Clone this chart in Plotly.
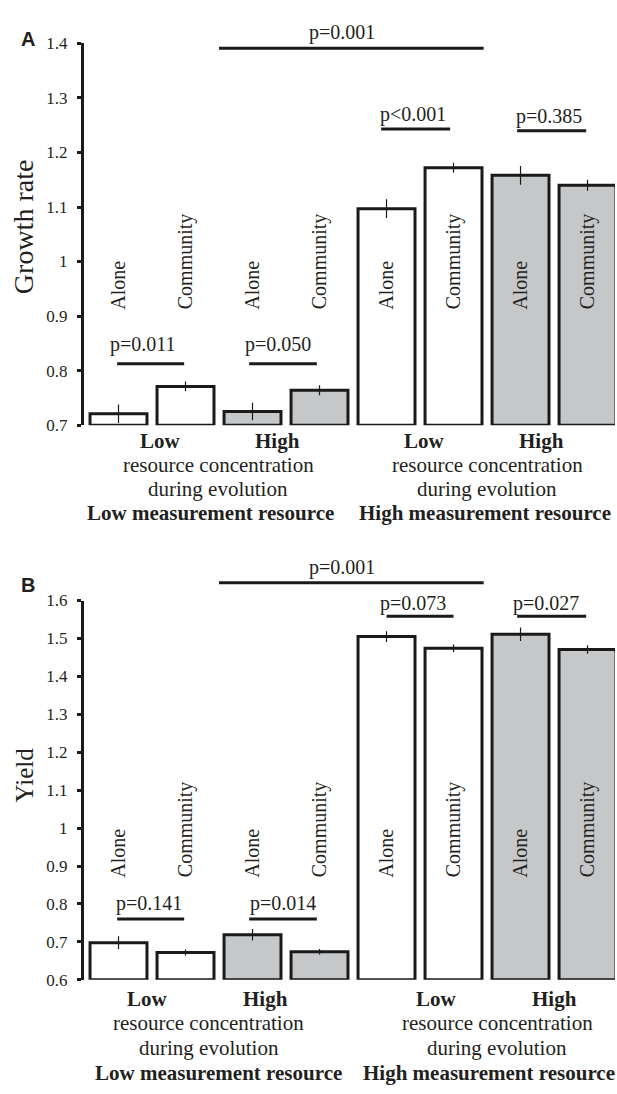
import plotly.graph_objects as go

# ---------------- data ----------------
conditions = ["Alone", "Community", "Alone", "Community", "Alone", "Community", "Alone", "Community"]
evolved_high = [False, False, True, True, False, False, True, True]
growth_rate = [0.721, 0.771, 0.725, 0.764, 1.097, 1.172, 1.158, 1.140]
growth_se = [0.017, 0.009, 0.016, 0.009, 0.017, 0.009, 0.017, 0.010]
yield_vals = [0.698, 0.672, 0.719, 0.674, 1.505, 1.474, 1.511, 1.471]
yield_se = [0.017, 0.008, 0.015, 0.007, 0.014, 0.010, 0.018, 0.011]

growth_ticks = [0.7, 0.8, 0.9, 1.0, 1.1, 1.2, 1.3, 1.4]
growth_ticktext = ["0.7", "0.8", "0.9", "1", "1.1", "1.2", "1.3", "1.4"]
yield_ticks = [0.6, 0.7, 0.8, 0.9, 1.0, 1.1, 1.2, 1.3, 1.4, 1.5, 1.6]
yield_ticktext = ["0.6", "0.7", "0.8", "0.9", "1", "1.1", "1.2", "1.3", "1.4", "1.5", "1.6"]

# significance brackets: (x0, x1, y_line_px, label, x_text, y_text_px)
growth_sig = [
    (1.5, 5.45, 40, "p=0.001", 3.33, 24),
    (-0.02, 0.98, 361, "p=0.011", 0.37, 341),
    (1.95, 2.96, 361, "p=0.050", 2.38, 341),
    (3.92, 4.95, 122, "p<0.001", 4.4, 107),
    (5.95, 6.98, 124, "p=0.385", 6.42, 109),
]
yield_sig = [
    (1.5, 5.45, 584, "p=0.001", 3.33, 568),
    (-0.02, 0.98, 926, "p=0.141", 0.45, 910),
    (1.95, 2.96, 926, "p=0.014", 2.45, 910),
    (4.0, 5.0, 618, "p=0.073", 4.39, 605),
    (5.95, 6.98, 618, "p=0.027", 6.38, 605),
]

# group labels: (text, x, y_px, bold)
growth_group_labels = [
    ("Low", 0.62, 440, True), ("High", 2.38, 440, True),
    ("resource concentration", 1.49, 464, False), ("during evolution", 1.49, 488, False),
    ("Low measurement resource", 1.37, 513, True),
    ("Low", 4.57, 440, True), ("High", 6.32, 440, True),
    ("resource concentration", 5.5, 464, False), ("during evolution", 5.5, 488, False),
    ("High measurement resource", 5.47, 513, True),
]
yield_group_labels = [
    ("Low", 0.44, 1007, True), ("High", 2.19, 1007, True),
    ("resource concentration", 1.35, 1032, False), ("during evolution", 1.35, 1057, False),
    ("Low measurement resource", 1.49, 1083, True),
    ("Low", 4.75, 1007, True), ("High", 6.51, 1007, True),
    ("resource concentration", 5.65, 1032, False), ("during evolution", 5.65, 1057, False),
    ("High measurement resource", 5.53, 1083, True),
]

# ---------------- style ----------------
W, H = 617, 1094
SERIF = "Liberation Serif"
TXT = "#231f20"
GRAY = "#c6c7c9"
positions = list(range(len(conditions)))
fills = [GRAY if h else "white" for h in evolved_high]


def py(px):
    return 1 - px / H


fig = go.Figure()

panels = [
    dict(vals=growth_rate, se=growth_se, base=0.7, top=1.4, xa="x", ya="y",
         xaxis="xaxis", yaxis="yaxis", dom=(py(423.5), py(35)), ticks=growth_ticks,
         ticktext=growth_ticktext, sig=growth_sig, groups=growth_group_labels,
         label_y=0.908, title="Growth rate", title_px=(23, 222), title_size=28,
         letter="A", letter_px=(28, 31)),
    dict(vals=yield_vals, se=yield_se, base=0.6, top=1.6, xa="x2", ya="y2",
         xaxis="xaxis2", yaxis="yaxis2", dom=(py(988), py(602)), ticks=yield_ticks,
         ticktext=yield_ticktext, sig=yield_sig, groups=yield_group_labels,
         label_y=0.864, title="Yield", title_px=(24, 780), title_size=25,
         letter="B", letter_px=(28, 586)),
]

annotations = []
shapes = []
layout_axes = {}

for p in panels:
    fig.add_trace(go.Bar(
        x=positions,
        y=[v - p["base"] for v in p["vals"]],
        base=p["base"],
        width=0.85,
        marker=dict(color=fills, line=dict(color="#1a1a1a", width=3)),
        error_y=dict(type="data", array=p["se"], visible=True, color="#1a1a1a",
                     thickness=1.2, width=0),
        xaxis=p["xa"], yaxis=p["ya"], showlegend=False, cliponaxis=False,
        hoverinfo="skip",
    ))
    layout_axes[p["xaxis"]] = dict(domain=[84 / W, 615 / W], range=[-0.515, 7.41],
                                   visible=False, anchor=p["ya"])
    layout_axes[p["yaxis"]] = dict(
        domain=list(p["dom"]), range=[p["base"], p["top"]], anchor=p["xa"],
        tickvals=p["ticks"], ticktext=p["ticktext"], showgrid=False, zeroline=False,
        showline=True, linecolor="#1a1a1a", linewidth=3, ticks="outside",
        ticklen=4, tickwidth=3, tickcolor="#1a1a1a", ticklabelstandoff=6,
        tickfont=dict(family=SERIF, size=17, color=TXT),
    )
    # condition labels
    for i, c in enumerate(conditions):
        annotations.append(dict(
            x=positions[i], y=p["label_y"], xref=p["xa"], yref=p["ya"], text=c,
            textangle=-90, showarrow=False, xanchor="center", yanchor="bottom",
            font=dict(family=SERIF, size=20, color=TXT)))
    # significance
    for (x0, x1, ylpx, lab, xt, ytpx) in p["sig"]:
        shapes.append(dict(type="line", x0=x0, x1=x1, y0=py(ylpx), y1=py(ylpx),
                           xref=p["xa"], yref="paper",
                           line=dict(color="#1a1a1a", width=3)))
        annotations.append(dict(x=xt, y=py(ytpx), xref=p["xa"], yref="paper", text=lab,
                                showarrow=False, xanchor="center", yanchor="middle",
                                font=dict(family=SERIF, size=20, color=TXT)))
    # group labels
    for (t, x, ypx, bold) in p["groups"]:
        annotations.append(dict(x=x, y=py(ypx), xref=p["xa"], yref="paper",
                                text=f"<b>{t}</b>" if bold else t, showarrow=False,
                                xanchor="center", yanchor="middle",
                                font=dict(family=SERIF, size=21, color=TXT)))
    # axis title
    annotations.append(dict(x=p["title_px"][0] / W, y=py(p["title_px"][1]),
                            xref="paper", yref="paper", text=p["title"], textangle=-90,
                            showarrow=False, xanchor="center", yanchor="middle",
                            font=dict(family=SERIF, size=p["title_size"], color=TXT)))
    # panel letter
    annotations.append(dict(x=p["letter_px"][0] / W, y=py(p["letter_px"][1]),
                            xref="paper", yref="paper", text=f"<b>{p['letter']}</b>",
                            showarrow=False, xanchor="center", yanchor="middle",
                            font=dict(family="Liberation Sans", size=20, color=TXT)))

fig.update_layout(
    width=W, height=H, margin=dict(l=0, r=0, t=0, b=0),
    paper_bgcolor="white", plot_bgcolor="white",
    annotations=annotations, shapes=shapes, bargap=0.15,
    **layout_axes,
)

fig.write_html("out.html", config={"displayModeBar": False, "staticPlot": True})

# remove the default page margin so the figure sits at the window's top-left corner
with open("out.html", "r", encoding="utf-8") as f:
    html = f.read()
html = html.replace("<head>", "<head><style>html,body{margin:0;padding:0;overflow:hidden;}</style>", 1)
with open("out.html", "w", encoding="utf-8") as f:
    f.write(html)
